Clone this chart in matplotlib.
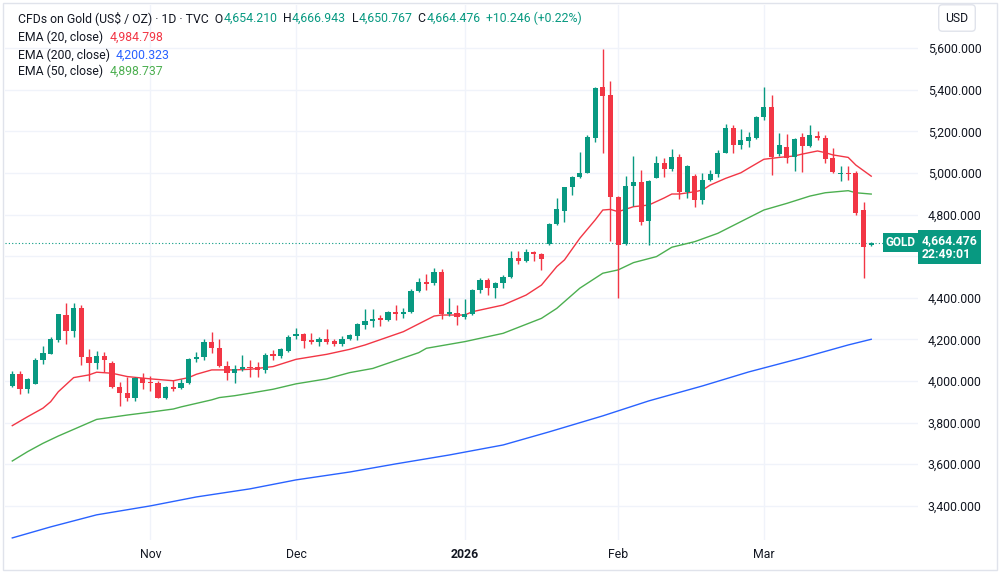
import matplotlib
matplotlib.use("Agg")
import matplotlib.pyplot as plt
import matplotlib.transforms as mtransforms
from matplotlib.patches import Rectangle

plt.rcParams['font.family'] = ['Roboto', 'DejaVu Sans']

# daily candles, index 0 = first visible bar (early Oct 2025)
opens = [3976, 4032, 3960, 3987, 4101, 4130, 4197, 4319, 4240, 4349,
         4114, 4085, 4119, 4087, 3973, 3944, 3917, 4014, 3997, 3992,
         3920, 3970, 3965, 3989, 4104, 4117, 4186, 4160, 4073, 4037,
         4056, 4064, 4066, 4053, 4128, 4120, 4146, 4216, 4224, 4197,
         4189, 4200, 4191, 4178, 4200, 4218, 4269, 4288, 4301, 4293,
         4332, 4323, 4330, 4434, 4476, 4469, 4525, 4321, 4327, 4306,
         4322, 4437, 4486, 4446, 4470, 4499, 4590, 4577, 4619, 4609,
         4657, 4753, 4819, 4931, 4979, 5001, 5167, 5412, 5375, 4886,
         4659, 4937, 4957, 4771, 4978, 5050, 5018, 5078, 4910, 4986,
         4870, 4966, 4994, 5098, 5218, 5135, 5154, 5170, 5271, 5316,
         5091, 5126, 5075, 5172, 5130, 5179, 5170, 5074, 4995, 4998,
         4998, 4822, 4654.210]
highs = [4049, 4048, 4012, 4112, 4170, 4210, 4324, 4375, 4375, 4364,
         4152, 4144, 4138, 4095, 3997, 4018, 4018, 4040, 4024, 4000,
         3978, 4005, 4008, 4108, 4141, 4203, 4234, 4202, 4097, 4077,
         4125, 4101, 4093, 4133, 4149, 4160, 4221, 4253, 4229, 4229,
         4212, 4251, 4200, 4214, 4226, 4280, 4345, 4345, 4317, 4338,
         4365, 4349, 4440, 4494, 4514, 4542, 4538, 4398, 4365, 4393,
         4440, 4494, 4494, 4477, 4510, 4624, 4626, 4633, 4626, 4613,
         4761, 4878, 4935, 4986, 5102, 5183, 5412, 5595, 5444, 4890,
         4986, 5083, 5014, 4966, 5082, 5074, 5114, 5090, 5040, 4994,
         5001, 5014, 5110, 5234, 5231, 5210, 5199, 5275, 5415, 5375,
         5194, 5188, 5170, 5191, 5231, 5200, 5183, 5122, 5034, 5034,
         5010, 4859, 4666.943]
lows = [3972, 3936, 3941, 3983, 4082, 4128, 4189, 4179, 4211, 4075,
        4000, 4058, 4045, 3968, 3880, 3905, 3905, 3960, 3953, 3918,
        3915, 3953, 3962, 3987, 4093, 4100, 4136, 4068, 4005, 3992,
        4050, 4021, 4018, 4037, 4101, 4110, 4140, 4200, 4157, 4178,
        4168, 4180, 4170, 4170, 4195, 4197, 4250, 4261, 4264, 4288,
        4293, 4301, 4325, 4429, 4437, 4462, 4297, 4314, 4269, 4300,
        4318, 4425, 4413, 4398, 4446, 4495, 4562, 4572, 4578, 4534,
        4654, 4750, 4766, 4894, 4975, 4998, 5151, 5095, 4675, 4398,
        4654, 4841, 4750, 4654, 4975, 4982, 5010, 4874, 4878, 4838,
        4849, 4960, 4982, 5094, 5095, 5115, 5123, 5162, 5255, 4990,
        5080, 5047, 5011, 5006, 5125, 5160, 5050, 5001, 4962, 4966,
        4800, 4494, 4650.767]
closes = [4032, 3960, 4008, 4102, 4133, 4200, 4321, 4240, 4349, 4114,
          4088, 4119, 4101, 3973, 3944, 3917, 4014, 3992, 3992, 3920,
          3970, 3963, 3989, 4106, 4117, 4188, 4160, 4072, 4037, 4055,
          4065, 4061, 4053, 4125, 4122, 4154, 4210, 4224, 4194, 4189,
          4200, 4186, 4178, 4200, 4221, 4273, 4290, 4298, 4295, 4330,
          4323, 4332, 4434, 4477, 4468, 4525, 4322, 4330, 4309, 4322,
          4437, 4486, 4446, 4470, 4499, 4590, 4577, 4619, 4609, 4585,
          4753, 4825, 4931, 4979, 5001, 5175, 5407, 5372, 4886, 4654,
          4937, 4957, 4766, 4962, 5050, 5018, 5078, 4910, 5034, 4870,
          4966, 4994, 5098, 5218, 5135, 5159, 5175, 5271, 5316, 5078,
          5135, 5074, 5163, 5130, 5183, 5170, 5067, 5006, 4998, 4995,
          4809, 4646, 4664.476]

ema20_idx = [0, 2, 4, 5, 6, 8, 10, 11, 13, 15, 18, 21, 23, 24, 26, 29, 31, 34,
             37, 41, 44, 46, 51, 55, 56, 59, 60, 64, 67, 69, 71, 72, 74, 76,
             77, 78, 79, 81, 83, 85, 86, 87, 89, 90, 91, 93, 95, 96, 98, 100,
             102, 103, 105, 106, 107, 109, 110, 112]
ema20_val = [3785, 3828, 3869, 3900, 3948, 4016, 4029, 4042, 4037, 4021, 4010,
             4001, 4016, 4032, 4053, 4053, 4056, 4069, 4104, 4128, 4152, 4173,
             4237, 4312, 4317, 4317, 4333, 4365, 4413, 4461, 4550, 4582, 4686,
             4774, 4822, 4825, 4814, 4838, 4846, 4880, 4899, 4899, 4910, 4918,
             4942, 4974, 5001, 5023, 5066, 5075, 5082, 5091, 5106, 5098, 5087,
             5075, 5038, 4984.798]
ema50_idx = [0, 2, 4, 6, 8, 11, 15, 18, 21, 22, 26, 27, 29, 31, 34, 37, 41, 44,
             47, 53, 54, 59, 64, 69, 71, 74, 77, 79, 81, 84, 86, 89, 92, 95,
             98, 101, 104, 106, 109, 110, 112]
ema50_val = [3615, 3660, 3700, 3735, 3767, 3815, 3836, 3850, 3865, 3875, 3909,
             3920, 3929, 3941, 3960, 3986, 4010, 4040, 4060, 4136, 4157, 4189,
             4229, 4301, 4349, 4446, 4518, 4534, 4569, 4598, 4643, 4670, 4710,
             4766, 4822, 4854, 4889, 4905, 4915, 4905, 4898.737]
ema200_idx = [0, 5, 11, 18, 24, 31, 37, 44, 50, 57, 64, 70, 77, 83, 90, 96,
              103, 109, 112]
ema200_val = [3245, 3298, 3356, 3399, 3442, 3481, 3524, 3562, 3601, 3644, 3692,
              3755, 3832, 3904, 3976, 4043, 4111, 4173, 4200.323]

month_idx = [18, 37, 59, 79, 98]
month_lbl = ['Nov', 'Dec', '2026', 'Feb', 'Mar']
price_ticks = list(range(3400, 5601, 200))

UP = '#089981'
DOWN = '#F23645'
TXT = '#131722'
W, H = 1000, 573

fig = plt.figure(figsize=(W / 100, H / 100), dpi=100)
fig.patch.set_facecolor('white')
ax = fig.add_axes([5 / W, 33 / H, 913 / W, 535 / H])

n = len(closes)
xs = list(range(n))
cols = [UP if c >= o else DOWN for o, c in zip(opens, closes)]
bottoms = [min(o, c) for o, c in zip(opens, closes)]
heights = [max(abs(c - o), 4) for o, c in zip(opens, closes)]

ax.vlines(xs, lows, highs, colors=cols, lw=1, zorder=3)
ax.bar(xs, heights, bottom=bottoms, width=0.68, color=cols, lw=0, zorder=4)

ax.plot(ema20_idx, ema20_val, color='#F23645', lw=1, zorder=2)
ax.plot(ema50_idx, ema50_val, color='#4CAF50', lw=1, zorder=2)
ax.plot(ema200_idx, ema200_val, color='#2962FF', lw=1, zorder=2)

last = closes[-1]
ax.axhline(last, color=UP, lw=0.8, ls=(0, (1, 2)), zorder=1)

ax.set_xlim(-0.95, 118.1)
ax.set_ylim(3235, 5808)
for s in ax.spines.values():
    s.set_visible(False)
ax.grid(True, color='#f0f3fa', lw=1, zorder=0)
ax.set_axisbelow(True)

ax.yaxis.tick_right()
ax.set_yticks(price_ticks)
# the 4,600 label sits under the last-price tag
ax.set_yticklabels(['' if v == 4600 else f'{v:,.3f}' for v in price_ticks])
ax.tick_params(axis='y', length=0, pad=7, labelsize=8.8, labelcolor=TXT)
ax.set_xticks(month_idx)
ax.set_xticklabels(month_lbl)
ax.tick_params(axis='x', length=0, pad=6, labelsize=8.8, labelcolor=TXT)
for t in ax.get_xticklabels():
    if t.get_text() == '2026':
        t.set_fontweight('bold')

# last price tags
blend = mtransforms.blended_transform_factory(ax.transAxes, ax.transData)
ax.text(0.9975, last, 'GOLD', transform=blend, ha='right', va='center',
        color='white', fontsize=8.5, fontweight='bold',
        bbox=dict(boxstyle='square,pad=0.25', fc=UP, ec='none'), zorder=6)
tag = mtransforms.offset_copy(blend, fig=fig, x=0, y=9, units='dots')
ax.text(1.004, last, f'{last:,.3f}\n22:49:01', transform=tag, ha='left', va='top',
        color='white', fontsize=8.8, fontweight='bold', linespacing=1.1,
        bbox=dict(boxstyle='square,pad=0.3', fc=UP, ec='none'), clip_on=False, zorder=6)

# USD box and outer frame
fig.text(957 / W, 1 - 18 / H, 'USD', ha='center', va='center', fontsize=8.8, color=TXT,
         bbox=dict(boxstyle='round,pad=0.55,rounding_size=0.3', fc='white', ec='#e0e3eb'))
fig.patches.append(Rectangle((3 / W, 3 / H), 994 / W, 567 / H, transform=fig.transFigure,
                             fill=False, ec='#e0e3eb', lw=1))

# legend rows
renderer = fig.canvas.get_renderer()


def put_row(x_px, y_px, parts, size=8.8):
    x = x_px
    for s, color in parts:
        t = fig.text(x / W, 1 - y_px / H, s, color=color, fontsize=size, ha='left', va='center')
        x += t.get_window_extent(renderer).width


put_row(18, 18, [('CFDs on Gold (US$ / OZ) · 1D · TVC  O', TXT), (f'{opens[-1]:,.3f}', UP),
                 ('  H', TXT), (f'{highs[-1]:,.3f}', UP), ('  L', TXT), (f'{lows[-1]:,.3f}', UP),
                 ('  C', TXT), (f'{last:,.3f}', UP), ('  +10.246 (+0.22%)', UP)])
put_row(18, 37, [('EMA (20, close)  ', TXT), ('4,984.798', '#F23645')])
put_row(18, 55, [('EMA (200, close)  ', TXT), ('4,200.323', '#2962FF')])
put_row(18, 71, [('EMA (50, close)  ', TXT), ('4,898.737', '#4CAF50')])

fig.savefig('out.png', dpi=100)
